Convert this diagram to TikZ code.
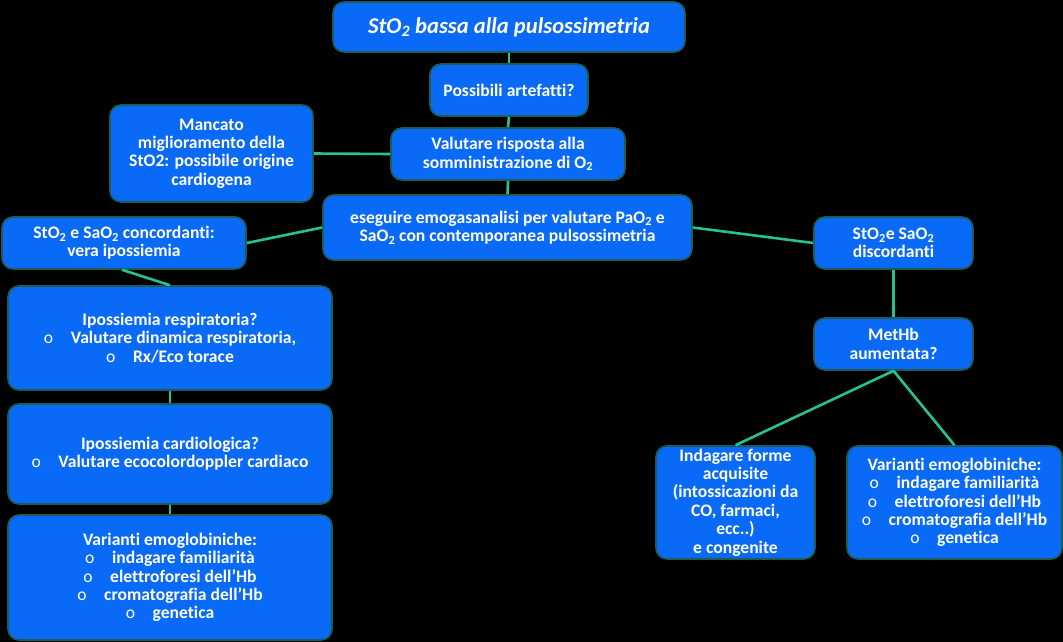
\documentclass[tikz,border=0pt]{standalone}
\usepackage{fontspec}
\setmainfont[Ligatures=NoCommon]{Carlito}
\definecolor{boxblue}{HTML}{0A6AF8}
\definecolor{boxedge}{HTML}{1C5C55}
\definecolor{linkgreen}{HTML}{26C291}
\newcommand{\bul}{{\mdseries o}\hspace{1em}}
\newcommand{\two}{\textsubscript{2}}
\begin{document}
\begin{tikzpicture}[x=1pt,y=-1pt,
  box/.style={draw=boxedge, line width=1.6pt, fill=boxblue, rounded corners=11pt,
    text=white, font=\bfseries\fontsize{17.6}{18.4}\selectfont, align=center,
    inner sep=1pt},
  link/.style={draw=linkgreen, line width=2.6pt}]
\fill[black] (0,0) rectangle (1063,642);
\useasboundingbox (0,0) rectangle (1063,642);

\node[box, minimum width=352pt, minimum height=50pt, font=\bfseries\itshape\fontsize{22.6}{26}\selectfont] (title) at (509,27) {StO\two{} bassa alla pulsossimetria};
\node[box, minimum width=158pt, minimum height=52pt] (art) at (509,90) {Possibili artefatti?};
\node[box, minimum width=234pt, minimum height=52pt] (val) at (508,154) {Valutare risposta alla\\ somministrazione di O\two};
\node[box, minimum width=203pt, minimum height=97pt] (manc) at (211.5,153.5) {Mancato\\ miglioramento della\\ StO2: possibile origine\\ cardiogena};
\node[box, minimum width=369pt, minimum height=65pt] (ega) at (507.5,227.5) {eseguire emogasanalisi per valutare PaO\two{} e\\ SaO\two{} con contemporanea pulsossimetria};
\node[box, minimum width=244pt, minimum height=52pt] (conc) at (124,243) {StO\two{} e SaO\two{} concordanti:\\ vera ipossiemia};
\node[box, minimum width=159pt, minimum height=52pt] (disc) at (893.5,243) {StO\two{}e SaO\two\\ discordanti};
\node[box, minimum width=324pt, minimum height=104pt] (resp) at (170,338) {Ipossiemia respiratoria?\\ \bul Valutare dinamica respiratoria,\\ \bul Rx/Eco torace};
\node[box, minimum width=324pt, minimum height=100pt] (card) at (170,454) {Ipossiemia cardiologica?\\ \bul Valutare ecocolordoppler cardiaco};
\node[box, minimum width=324pt, minimum height=125pt] (varl) at (170,577.5) {Varianti emoglobiniche:\\ \bul indagare familiarità\\ \bul elettroforesi dell’Hb\\ \bul cromatografia dell’Hb\\ \bul genetica};
\node[box, minimum width=159pt, minimum height=52pt] (met) at (893.5,344) {MetHb\\ aumentata?};
\node[box, minimum width=159pt, minimum height=113pt] (acq) at (735.5,502.5) {Indagare forme\\ acquisite\\ (intossicazioni da\\ CO, farmaci,\\ ecc..)\\ e congenite};
\node[box, minimum width=215pt, minimum height=113pt] (varr) at (954.5,502.5) {Varianti emoglobiniche:\\ \bul indagare familiarità\\ \bul elettroforesi dell’Hb\\ \bul cromatografia dell’Hb\\ \bul genetica};

\draw[link] (title.south) -- (art.north);
\draw[link] (art.south) -- (val.north);
\draw[link] (manc.east) -- (val.west);
\draw[link] (val.south) -- (ega.north);
\draw[link] (ega.west) -- (conc.east);
\draw[link] (ega.east) -- (disc.west);
\draw[link] ([xshift=-2pt]conc.south) -- (resp.north);
\draw[link] (resp.south) -- (card.north);
\draw[link] (card.south) -- (varl.north);
\draw[link] (disc.south) -- (met.north);
\draw[link] (met.south) -- (acq.north);
\draw[link] (met.south) -- (varr.north);
\end{tikzpicture}
\end{document}
